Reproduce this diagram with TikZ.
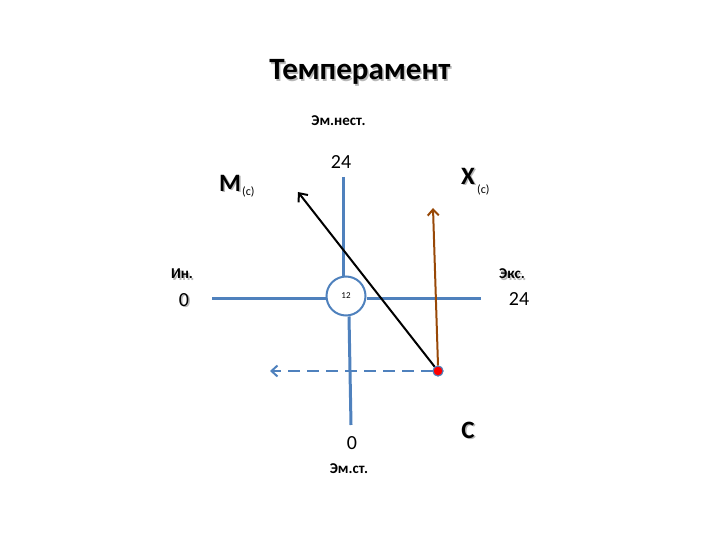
\documentclass[tikz,border=0pt]{standalone}
\usepackage{fontspec}
\setmainfont{Carlito}
\usetikzlibrary{arrows.meta,calc}
\definecolor{axblue}{RGB}{79,129,189}
\definecolor{brn}{RGB}{152,72,7}
\tikzset{
  axis/.style={draw=axblue,line width=3pt},
  lbl/.style={inner sep=0pt,font=\bfseries\fontsize{15}{17}\selectfont},
  num/.style={inner sep=0pt,font=\fontsize{20}{22}\selectfont},
  big/.style={inner sep=0pt,font=\bfseries\fontsize{25}{27}\selectfont},
  sub/.style={inner sep=0pt,font=\fontsize{12}{13}\selectfont,anchor=west},
  shd/.style={text=black!28},
}
\begin{document}
\begin{tikzpicture}[x=1pt,y=-1pt]
\useasboundingbox (0,0) rectangle (720,540);
% title
\node[font=\bfseries\fontsize{31}{34}\selectfont,shd] at (361.5,73.5) {Темперамент};
\node[font=\bfseries\fontsize{31}{34}\selectfont] (title) at (360,72) {Темперамент};
% axes
\coordinate (vtop) at (343,177);
\coordinate (vbot) at (351,425);
\coordinate (hl) at (212,298);
\coordinate (hr) at (481,298);
\node[draw=axblue,line width=2pt,circle,minimum size=39pt,inner sep=0pt,font=\fontsize{9}{10}\selectfont] (c12) at (346,296) {12};
\draw[axis] (vtop) -- (vtop |- c12.north);
\draw[axis] ($(c12.south)+(3,0)$) -- (vbot);
\draw[axis] (hl) -- (hl -| c12.west);
\draw[axis] (hr -| c12.east) -- (hr);
% point C
\coordinate (dashend) at (270,371);
\node[circle,fill=red,draw=axblue,line width=1pt,minimum size=10pt,inner sep=0pt] (C) at (438,371) {};
\draw[draw=axblue,line width=2pt,dash pattern=on 12pt off 7pt,-{Straight Barb[length=6pt,width=11pt]}] (C.west) -- (dashend);
\coordinate (mtip) at (298,192);
\coordinate (xtip) at (433,208);
\draw[line width=2pt,-{Straight Barb[length=7pt,width=12pt]}] (C) -- (mtip);
\draw[brn,line width=2pt,-{Straight Barb[length=6pt,width=11pt]}] (C.north) -- (xtip);
\node[draw=axblue,fill=red,circle,line width=1pt,minimum size=10pt,inner sep=0pt] at (C) {};
% labels
\node[lbl] (emn) at (338.5,121) {Эм.нест.};
\node[num] (n24t) at (341,162) {24};
\node[big,shd] at (231.5,184.5) {M};
\node[big] (M) at (230,183) {M};
\node[sub] at (242,192) {(c)};
\node[big,shd] at (469.5,177.5) {X};
\node[big] (X) at (468,176) {X};
\node[sub] at (477,190) {(c)};
\node[lbl,shd] at (183.5,275.5) {Ин.};
\node[lbl] (in) at (182,274) {Ин.};
\node[num,shd] at (185.5,301.5) {0};
\node[num] (z1) at (184,300) {0};
\node[lbl,shd] at (513.5,275.5) {Экс.};
\node[lbl] (eks) at (512,274) {Экс.};
\node[num] (n24r) at (519,299) {24};
\node[num] (z2) at (352,443) {0};
\node[lbl] (ems) at (349,469) {Эм.ст.};
\node[big,shd] at (469.5,431.5) {C};
\node[big] (Clbl) at (468,430) {C};
\end{tikzpicture}
\end{document}
